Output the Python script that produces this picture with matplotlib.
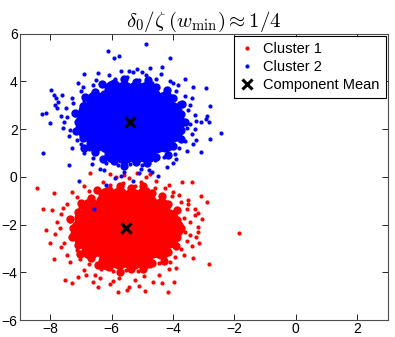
import matplotlib
matplotlib.use('Agg')
import matplotlib.pyplot as plt

plt.rcParams.update({'font.family': 'Liberation Sans', 'font.size': 10,
                     'mathtext.fontset': 'cm'})

# Cluster 1 (red): dense core points
c1_core = [(-6.15, -0.82), (-5.75, -0.78), (-5.35, -0.83), (-4.95, -0.79),
           (-6.70, -1.27), (-6.30, -1.23), (-5.90, -1.26), (-5.50, -1.22), (-5.10, -1.27), (-4.70, -1.24), (-4.40, -1.28),
           (-6.95, -1.72), (-6.55, -1.68), (-6.15, -1.71), (-5.75, -1.69), (-5.35, -1.73), (-4.95, -1.68), (-4.55, -1.71), (-4.15, -1.70),
           (-7.05, -2.16), (-6.65, -2.13), (-6.25, -2.17), (-5.85, -2.14), (-5.45, -2.16), (-5.05, -2.12), (-4.65, -2.17), (-4.25, -2.14), (-3.95, -2.16),
           (-6.95, -2.62), (-6.55, -2.58), (-6.15, -2.61), (-5.75, -2.59), (-5.35, -2.63), (-4.95, -2.58), (-4.55, -2.62), (-4.15, -2.60),
           (-6.70, -3.07), (-6.30, -3.03), (-5.90, -3.06), (-5.50, -3.02), (-5.10, -3.07), (-4.70, -3.04), (-4.40, -3.08),
           (-6.15, -3.52), (-5.75, -3.48), (-5.35, -3.51), (-4.95, -3.49)]

# Cluster 1: points around the edge of the blob
c1_mid = [(-3.75, -2.15), (-3.89, -1.80), (-3.86, -1.40), (-4.17, -1.15), (-4.35, -0.81), (-4.70, -0.68),
          (-4.98, -0.39), (-5.37, -0.46), (-5.74, -0.36), (-6.08, -0.53), (-6.48, -0.55), (-6.69, -0.89),
          (-7.01, -1.09), (-7.10, -1.46), (-7.36, -1.77), (-7.25, -2.15), (-7.31, -2.52), (-7.10, -2.84),
          (-7.05, -3.24), (-6.69, -3.41), (-6.45, -3.71), (-6.08, -3.77), (-5.74, -3.99), (-5.37, -3.84),
          (-4.99, -3.86), (-4.70, -3.62), (-4.31, -3.52), (-4.17, -3.15), (-3.91, -2.88), (-3.89, -2.50),
          (-4.11, -2.00), (-4.29, -1.42), (-4.70, -0.98), (-5.25, -0.73), (-5.85, -0.73), (-6.40, -0.98),
          (-6.81, -1.42), (-6.99, -2.00), (-6.93, -2.60), (-6.63, -3.12), (-6.14, -3.48), (-5.55, -3.60),
          (-4.96, -3.48), (-4.47, -3.12), (-4.17, -2.60)]

# Cluster 1: fringe and outlying points
c1_pts = [(-6.45, -0.50), (-6.05, -0.35), (-5.65, -0.25), (-5.25, -0.40), (-4.85, -0.50), (-4.55, -0.15),
          (-5.85, 0.00), (-6.75, -0.60), (-4.35, -0.75), (-5.45, -0.05), (-6.15, -0.55), (-5.05, -0.20),
          (-7.15, -0.85), (-7.45, -1.15), (-7.65, -1.55), (-7.35, -1.85), (-7.70, -2.15), (-7.30, -2.35),
          (-7.55, -2.75), (-7.15, -3.05), (-7.45, -3.25), (-7.05, -1.25), (-7.80, -1.90),
          (-6.75, -3.65), (-6.35, -3.85), (-5.95, -3.95), (-5.55, -3.90), (-5.15, -3.95), (-4.75, -3.75),
          (-4.45, -3.60), (-6.55, -4.10), (-5.75, -4.25), (-5.25, -4.30), (-4.95, -4.15), (-7.05, -3.45),
          (-4.15, -3.85), (-6.05, -4.50), (-4.65, -4.40), (-5.45, -4.60),
          (-3.95, -3.35), (-3.75, -3.00), (-3.85, -2.60), (-3.60, -2.30), (-3.90, -2.00), (-3.65, -1.70),
          (-3.95, -1.40), (-3.75, -1.05), (-4.05, -0.80), (-3.45, -1.90), (-3.55, -2.70), (-4.10, -3.55),
          (-4.25, -0.45), (-4.00, -0.65), (-3.30, -1.60), (-3.25, -2.50), (-3.40, -2.90), (-3.35, -3.40),
          (-3.45, -2.45), (-3.55, -1.35), (-3.80, -0.75), (-4.15, -0.35), (-4.90, 0.00), (-5.60, 0.10),
          (-6.30, -0.20), (-6.90, -0.40), (-7.30, -0.65), (-7.60, -1.30), (-7.85, -2.40), (-7.65, -2.95),
          (-7.35, -3.55), (-6.90, -3.90), (-6.60, -4.40), (-5.95, -4.35), (-5.10, -4.55), (-4.45, -4.10),
          (-3.90, -3.80), (-3.65, -3.25), (-3.50, -0.95), (-4.60, -0.45), (-7.95, -1.40), (-8.00, -2.75),
          (-3.15, -2.75), (-3.05, -1.75), (-6.45, -4.60), (-4.35, -4.45),
          (-8.45, -0.46), (-7.87, -0.68), (-8.25, -1.33), (-8.16, -2.21), (-7.89, -3.42), (-7.51, -4.32),
          (-7.30, -4.43), (-5.80, -4.80), (-5.51, -4.74), (-4.92, -4.78), (-4.18, -4.80), (-3.96, -4.39),
          (-6.72, 0.17), (-6.05, 0.13), (-5.19, 0.17), (-4.75, 0.13), (-3.72, -0.22), (-3.40, -0.22),
          (-3.51, -1.13), (-3.30, -1.35), (-7.10, -4.18), (-6.83, -4.11), (-6.38, -4.25),
          (-3.08, -0.78), (-2.91, -1.03), (-3.20, -1.50), (-1.85, -2.36), (-2.84, -3.63), (-3.20, -2.10),
          (-3.18, -2.30)]

# Cluster 2 (blue): dense core points
c2_core = [(-5.95, 0.97), (-5.60, 0.93), (-5.20, 0.98), (-4.85, 0.94),
           (-6.55, 1.42), (-6.15, 1.38), (-5.75, 1.41), (-5.35, 1.37), (-4.95, 1.42), (-4.55, 1.39), (-4.25, 1.43),
           (-6.80, 1.87), (-6.40, 1.83), (-6.00, 1.86), (-5.60, 1.84), (-5.20, 1.88), (-4.80, 1.83), (-4.40, 1.86), (-4.00, 1.85),
           (-6.90, 2.31), (-6.50, 2.28), (-6.10, 2.32), (-5.70, 2.29), (-5.30, 2.31), (-4.90, 2.27), (-4.50, 2.32), (-4.10, 2.29), (-3.90, 2.31),
           (-6.80, 2.77), (-6.40, 2.73), (-6.00, 2.76), (-5.60, 2.74), (-5.20, 2.78), (-4.80, 2.73), (-4.40, 2.76), (-4.00, 2.75),
           (-6.55, 3.22), (-6.15, 3.18), (-5.75, 3.21), (-5.35, 3.17), (-4.95, 3.22), (-4.55, 3.19), (-4.25, 3.23),
           (-5.95, 3.67), (-5.60, 3.63), (-5.20, 3.66), (-4.85, 3.64)]

# Cluster 2: points around the edge of the blob
c2_mid = [(-3.60, 2.30), (-3.74, 2.65), (-3.71, 3.05), (-4.02, 3.30), (-4.20, 3.64), (-4.55, 3.77),
          (-4.83, 4.06), (-5.22, 3.99), (-5.59, 4.09), (-5.93, 3.92), (-6.33, 3.90), (-6.54, 3.56),
          (-6.86, 3.36), (-6.95, 2.99), (-7.21, 2.68), (-7.10, 2.30), (-7.16, 1.93), (-6.95, 1.61),
          (-6.90, 1.21), (-6.54, 1.04), (-6.30, 0.74), (-5.93, 0.68), (-5.59, 0.46), (-5.22, 0.61),
          (-4.84, 0.59), (-4.55, 0.83), (-4.16, 0.93), (-4.02, 1.30), (-3.76, 1.57), (-3.74, 1.95),
          (-3.96, 2.45), (-4.14, 3.03), (-4.55, 3.47), (-5.10, 3.72), (-5.70, 3.72), (-6.25, 3.47),
          (-6.66, 3.03), (-6.84, 2.45), (-6.78, 1.85), (-6.48, 1.33), (-5.99, 0.97), (-5.40, 0.85),
          (-4.81, 0.97), (-4.32, 1.33), (-4.02, 1.85)]

# Cluster 2: fringe and outlying points
c2_pts = [(-6.30, 3.95), (-5.90, 4.10), (-5.50, 4.20), (-5.10, 4.05), (-4.70, 3.95), (-4.40, 4.30),
          (-5.70, 4.45), (-6.60, 3.85), (-4.20, 3.70), (-5.30, 4.40), (-6.00, 3.90), (-4.90, 4.25),
          (-7.00, 3.60), (-7.30, 3.30), (-7.50, 2.90), (-7.20, 2.60), (-7.55, 2.30), (-7.15, 2.10),
          (-7.40, 1.70), (-7.00, 1.40), (-7.30, 1.20), (-6.90, 3.20), (-7.65, 2.55),
          (-6.60, 0.80), (-6.20, 0.60), (-5.80, 0.50), (-5.40, 0.55), (-5.00, 0.50), (-4.60, 0.70),
          (-4.30, 0.85), (-6.40, 0.35), (-5.60, 0.20), (-5.10, 0.15), (-4.80, 0.30), (-6.90, 1.00),
          (-4.00, 0.60), (-5.90, -0.05), (-4.50, 0.05), (-5.30, -0.15),
          (-3.80, 1.20), (-3.60, 1.50), (-3.70, 1.90), (-3.45, 2.20), (-3.75, 2.50), (-3.50, 2.80),
          (-3.80, 3.10), (-3.60, 3.40), (-3.90, 3.60), (-3.30, 2.60), (-3.40, 1.80), (-3.95, 0.95),
          (-4.10, 4.00), (-3.85, 3.85),
          (-3.30, 2.00), (-3.45, 3.00), (-4.00, 3.95), (-4.55, 4.10), (-5.00, 4.40), (-5.45, 4.45),
          (-6.10, 4.25), (-6.50, 4.05), (-6.95, 3.75), (-7.25, 3.10), (-7.45, 2.50), (-7.35, 1.95),
          (-7.15, 1.55), (-6.75, 1.15), (-6.65, 0.55), (-6.25, 0.30), (-5.70, 0.05), (-5.05, 0.35),
          (-4.70, 0.20), (-4.20, 0.40), (-3.90, 0.75), (-3.55, 1.10), (-3.35, 1.40), (-3.55, 2.05),
          (-3.25, 2.35), (-7.60, 2.05), (-7.75, 3.15), (-6.45, 4.35), (-4.75, 4.55),
          (-4.89, 5.58), (-6.13, 5.26), (-5.75, 5.05), (-5.94, 4.99), (-4.10, 4.99), (-5.17, 4.54),
          (-4.37, 4.60), (-7.98, 3.64), (-8.27, 2.65), (-8.00, 2.25), (-8.25, 1.00), (-7.38, 0.49),
          (-7.06, -0.17), (-6.18, -0.33), (-6.59, -1.33), (-7.83, 3.29), (-7.86, 3.00), (-7.10, 3.95),
          (-3.35, 3.76), (-3.40, 3.30), (-6.90, 4.30), (-8.13, 2.67), (-7.89, 3.43), (-7.61, 3.43),
          (-7.78, 2.87), (-3.62, 4.10),
          (-2.94, 3.74), (-2.80, 2.97), (-2.89, 2.55), (-2.94, 2.42), (-2.84, 2.28), (-3.08, 2.28),
          (-2.43, 1.86), (-2.80, 1.58), (-3.08, 1.05), (-3.25, 1.55)]

# component means
mean_x = [-5.55, -5.42]
mean_y = [-2.15, 2.30]

fig = plt.figure(figsize=(3.95, 3.37), dpi=100)
ax = fig.add_axes([0.05, 0.05, 0.932, 0.85])

ax.plot(*zip(*c1_core), 'o', color='red', markersize=13, markeredgewidth=0)
ax.plot(*zip(*c1_mid), 'o', color='red', markersize=6, markeredgewidth=0)
l1, = ax.plot(*zip(*c1_pts), 'o', color='red', markersize=3, markeredgewidth=0, label='Cluster 1')
ax.plot(*zip(*c2_core), 'o', color='blue', markersize=13, markeredgewidth=0)
ax.plot(*zip(*c2_mid), 'o', color='blue', markersize=6, markeredgewidth=0)
l2, = ax.plot(*zip(*c2_pts), 'o', color='blue', markersize=3, markeredgewidth=0, label='Cluster 2')
l3, = ax.plot(mean_x, mean_y, 'x', color='black', markersize=7, markeredgewidth=2.2, label='Component Mean')

ax.set_xlim(-9, 3)
ax.set_ylim(-6, 6)
ax.set_xticks([-8, -6, -4, -2, 0, 2])
ax.set_yticks([-6, -4, -2, 0, 2, 4, 6])
ax.tick_params(direction='in', top=True, right=True, length=4, width=0.6, pad=1.5, labelsize=10)
for s in ax.spines.values():
    s.set_color('0.3')
    s.set_linewidth(0.8)

ax.set_title(r'$\delta_0/\zeta\;(w_{\min}) \approx 1/4$', fontsize=15, pad=5)

leg = ax.legend(handles=[l1, l2, l3], loc='upper right', fancybox=False, framealpha=1,
                edgecolor='black', borderaxespad=0.15, handlelength=1.0, handletextpad=0.6,
                borderpad=0.4, labelspacing=0.3, fontsize=10.5)
leg.get_frame().set_linewidth(0.8)

fig.savefig('out.png', dpi=100)
